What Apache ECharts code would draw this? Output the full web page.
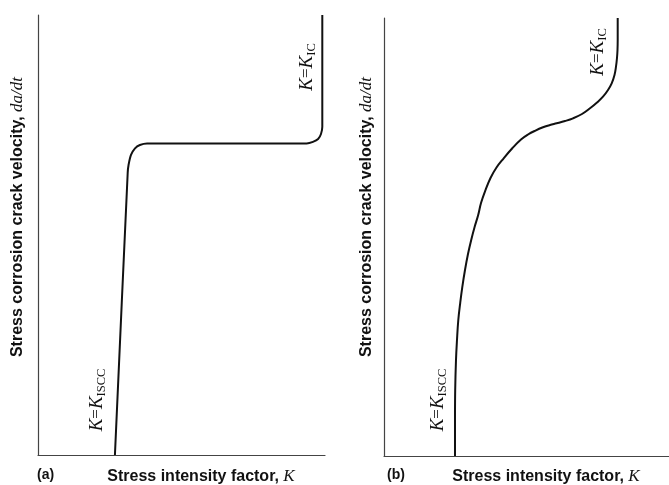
<!DOCTYPE html>
<html>
<head>
<meta charset="UTF-8">
<script src="https://cdn.jsdelivr.net/npm/echarts@6/dist/echarts.min.js"></script>
<style>
  html, body { margin: 0; padding: 0; background: #fff; }
  #chart { width: 669px; height: 485px; }
</style>
</head>
<body>
<div id="chart"></div>
<script>
// panel (a): K on x, da/dt on y, both in relative units 0..100
var kA = [26.8, 31.25, 31.55, 32.4, 33.8, 35.5, 38.0, 93.6, 95.8, 97.6, 98.6, 99.06, 99.06];
var vA = [0, 64.1, 65.9, 68.2, 69.7, 70.45, 70.8, 70.8, 71.15, 71.8, 72.95, 74.6, 100];

// panel (b)
var kB = [24.91, 24.91, 24.98, 25.26, 25.61, 26.07, 26.74, 27.47, 28.42, 29.47, 30.60, 31.79, 33.05, 34.04, 35.61,
          37.37, 39.47, 41.93, 45.09, 48.07, 50.53, 52.98, 55.79, 58.25, 60.60, 63.51, 66.32, 69.47, 72.28,
          74.74, 76.84, 78.60, 79.89, 80.88, 81.40, 81.75, 81.93, 82.0, 82.0];
var vB = [0, 8.22, 15.07, 21.92, 26.48, 31.05, 34.93, 38.58, 42.47, 46.12, 49.32, 52.28, 55.02, 57.76, 60.73,
          63.47, 65.87, 67.92, 70.32, 72.26, 73.40, 74.25, 75.05, 75.57, 75.96, 76.48, 77.10, 78.08, 79.38,
          80.71, 82.03, 83.56, 85.09, 86.99, 88.88, 90.87, 92.69, 94.98, 100];

var xTitle = 'Stress intensity factor, ';
var yTitle = 'Stress corrosion crack velocity, ';
var panelTags = ['(a)', '(b)'];

function pairs(xs, ys) {
  return xs.map(function (x, i) { return [x, ys[i]]; });
}

var axisLine = { show: true, lineStyle: { color: '#444', width: 1.2 } };

function valueAxis(idx) {
  return {
    type: 'value', gridIndex: idx, min: 0, max: 100,
    axisLine: axisLine, axisTick: { show: false },
    axisLabel: { show: false }, splitLine: { show: false }
  };
}

var sansBold = { fontFamily: 'Liberation Sans', fontWeight: 'bold', fontSize: 16, fill: '#111' };
var serifIt = { fontFamily: 'Liberation Serif', fontStyle: 'italic', fontSize: 17, fill: '#111' };

function kLabel(x, y, sub) {
  return {
    type: 'text', x: x, y: y, rotation: Math.PI / 2,
    style: {
      text: '{k|K}{e|=}{k|K}{s|' + sub + '}',
      align: 'center', verticalAlign: 'middle',
      rich: {
        k: { fontFamily: 'Liberation Serif', fontStyle: 'italic', fontSize: 19, lineHeight: 22, verticalAlign: 'middle', fill: '#111' },
        e: { fontFamily: 'Liberation Serif', fontSize: 17, lineHeight: 22, verticalAlign: 'middle', fill: '#111' },
        s: { fontFamily: 'Liberation Serif', fontSize: 12.5, lineHeight: 22, verticalAlign: 'bottom', fill: '#111' }
      }
    }
  };
}

function yTitleText(x, y) {
  return {
    type: 'text', x: x, y: y, rotation: Math.PI / 2,
    style: {
      text: '{b|' + yTitle + '}{i|da/dt}',
      align: 'center', verticalAlign: 'middle',
      rich: { b: sansBold, i: serifIt }
    }
  };
}

function xTitleText(x, y) {
  return {
    type: 'text', x: x, y: y,
    style: {
      text: '{b|' + xTitle + '}{i|K}',
      align: 'center', verticalAlign: 'middle',
      rich: { b: sansBold, i: serifIt }
    }
  };
}

function tagText(x, y, t) {
  return {
    type: 'text', x: x, y: y,
    style: { text: t, fontFamily: 'Liberation Sans', fontWeight: 'bold', fontSize: 14, fill: '#111', align: 'left', verticalAlign: 'middle' }
  };
}

var chart = echarts.init(document.getElementById('chart'), null, { renderer: 'canvas' });

chart.setOption({
  animation: false,
  backgroundColor: '#fff',
  grid: [
    { left: 38, top: 15, width: 287, bottom: 30 },
    { left: 384, top: 18, right: 0, bottom: 29 }
  ],
  xAxis: [valueAxis(0), valueAxis(1)],
  yAxis: [valueAxis(0), valueAxis(1)],
  series: [
    {
      type: 'line', xAxisIndex: 0, yAxisIndex: 0, data: pairs(kA, vA),
      showSymbol: false, smooth: 0.25, clip: false,
      lineStyle: { color: '#111', width: 2 }
    },
    {
      type: 'line', xAxisIndex: 1, yAxisIndex: 1, data: pairs(kB, vB),
      showSymbol: false, smooth: 0.4, clip: false,
      lineStyle: { color: '#111', width: 2 }
    }
  ],
  graphic: [
    yTitleText(18, 217),
    yTitleText(367, 217),
    xTitleText(201, 477),
    xTitleText(546, 477),
    tagText(37, 475, panelTags[0]),
    tagText(387, 475, panelTags[1]),
    kLabel(97, 400, 'ISCC'),
    kLabel(307, 67, 'IC'),
    kLabel(438, 400, 'ISCC'),
    kLabel(598, 52, 'IC')
  ]
});
</script>
</body>
</html>
